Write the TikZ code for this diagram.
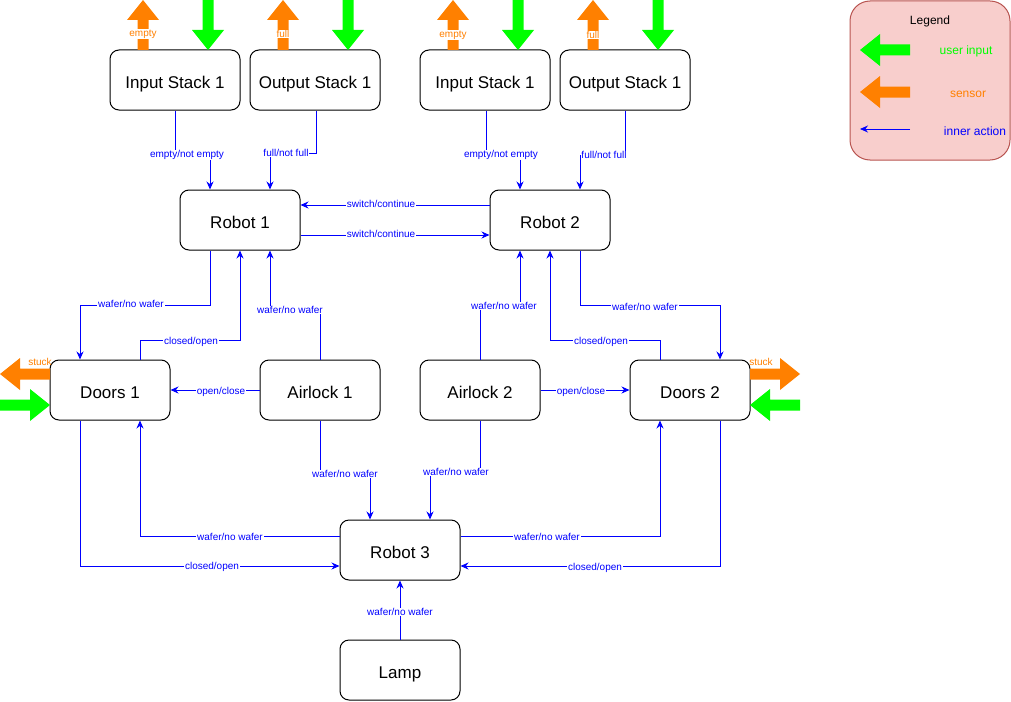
\documentclass[tikz,border=0pt]{standalone}
\usepackage{fontspec}
\setmainfont{Liberation Sans}
\usetikzlibrary{arrows.meta}
\definecolor{linkblue}{HTML}{0000FF}
\definecolor{sensororange}{HTML}{FF8000}
\definecolor{inputgreen}{HTML}{00FF00}
\definecolor{legendfill}{HTML}{F8CECC}
\definecolor{legenddraw}{HTML}{B85450}
\tikzset{
  box/.style={draw=black, line width=1pt, rounded corners=9pt, fill=white,
    minimum height=60pt, inner sep=0pt, text height=16pt, text depth=0pt,
    font=\fontsize{17}{20}\selectfont},
  stackbox/.style={box, minimum width=130pt},
  unitbox/.style={box, minimum width=120pt},
  link/.style={draw=linkblue, line width=1pt, -{Stealth[length=8pt,width=7pt]}},
  lbl/.style={fill=white, inner sep=0.8pt, text=linkblue, font=\fontsize{10}{12}\selectfont},
  senselbl/.style={inner sep=0.5pt, text=sensororange, font=\fontsize{10}{12}\selectfont},
  legendtxt/.style={font=\fontsize{12}{14}\selectfont},
  % block arrows, each drawn with its tip at the pic origin
  pics/uparrow/.style={code={\fill (0,0) -- (16,20) -- (5.5,20) -- (5.5,50) -- (-5.5,50) -- (-5.5,20) -- (-16,20) -- cycle;}},
  pics/downarrow/.style={code={\fill (0,0) -- (-16,-20) -- (-5.5,-20) -- (-5.5,-50) -- (5.5,-50) -- (5.5,-20) -- (16,-20) -- cycle;}},
  pics/leftarrow/.style={code={\fill (0,0) -- (20,-16) -- (20,-5.5) -- (50,-5.5) -- (50,5.5) -- (20,5.5) -- (20,16) -- cycle;}},
  pics/rightarrow/.style={code={\fill (0,0) -- (-20,-16) -- (-20,-5.5) -- (-50,-5.5) -- (-50,5.5) -- (-20,5.5) -- (-20,16) -- cycle;}},
}
\begin{document}
\begin{tikzpicture}[x=1pt,y=-1pt]
\useasboundingbox (0,0) rectangle (1011,701);

% stacks
\node[stackbox] (is1) at (175,80) {Input Stack 1};
\node[stackbox] (os1) at (315,80) {Output Stack 1};
\node[stackbox] (is2) at (485,80) {Input Stack 1};
\node[stackbox] (os2) at (625,80) {Output Stack 1};

% robots, doors, airlocks, lamp
\node[unitbox] (r1) at (240,220) {Robot 1};
\node[unitbox] (r2) at (550,220) {Robot 2};
\node[unitbox] (d1) at (110,390) {Doors 1};
\node[unitbox] (a1) at (320,390) {Airlock 1};
\node[unitbox] (a2) at (480,390) {Airlock 2};
\node[unitbox] (d2) at (690,390) {Doors 2};
\node[unitbox] (r3) at (400,550) {Robot 3};
\node[unitbox] (lamp) at (400,670) {Lamp};

% sensor and user input arrows on the stacks
\pic[fill=sensororange] at (143,0) {uparrow};
\pic[fill=sensororange] at (283,0) {uparrow};
\pic[fill=sensororange] at (453,0) {uparrow};
\pic[fill=sensororange] at (593,0) {uparrow};
\pic[fill=inputgreen] at (208,50) {downarrow};
\pic[fill=inputgreen] at (348,50) {downarrow};
\pic[fill=inputgreen] at (518,50) {downarrow};
\pic[fill=inputgreen] at (658,50) {downarrow};
\node[senselbl, fill=white] (s1) at (143,34) {empty};
\node[senselbl, fill=white] (s2) at (283,34) {full};
\node[senselbl, fill=white] (s3) at (453,35) {empty};
\node[senselbl, fill=white] (s4) at (593,35) {full};

% sensor and user input arrows on the doors
\pic[fill=sensororange] at (0,374) {leftarrow};
\pic[fill=inputgreen] at (50,405) {rightarrow};
\pic[fill=sensororange] at (800,374) {rightarrow};
\pic[fill=inputgreen] at (750,405) {leftarrow};
\node[senselbl] (st1) at (40,362) {stuck};
\node[senselbl] (st2) at (761,362) {stuck};

% inner actions
\draw[link] (is1.south) -- ++(0,45) -| ([xshift=-30pt]r1.north);
\draw[link] ([xshift=1pt]os1.south) -- ++(0,43) -| ([xshift=30pt]r1.north);
\draw[link] ([xshift=1pt]is2.south) -- ++(0,45) -| ([xshift=-30pt]r2.north);
\draw[link] (os2.south) -- ++(0,45) -| ([xshift=30pt]r2.north);
\draw[link] ([yshift=15pt]r2.west) -- ([yshift=15pt]r1.east);
\draw[link] ([yshift=-15pt]r1.east) -- ([yshift=-15pt]r2.west);
\draw[link] ([xshift=-30pt]r1.south) -- ++(0,55) -| ([xshift=-30pt]d1.north);
\draw[link] ([xshift=30pt]d1.north) -- ++(0,-19) -| (r1.south);
\draw[link] (a1.north) -- ++(0,-50) -| ([xshift=30pt]r1.south);
\draw[link] (a1.west) -- (d1.east);
\draw[link] ([xshift=30pt]r2.south) -- ++(0,55) -| ([xshift=30pt]d2.north);
\draw[link] ([xshift=-30pt]d2.north) -- ++(0,-19) -| (r2.south);
\draw[link] (a2.north) -- ++(0,-54) -| ([xshift=-30pt]r2.south);
\draw[link] (a2.east) -- (d2.west);
\draw[link] (a1.south) -- ++(0,54) -| ([xshift=-30pt]r3.north);
\draw[link] (a2.south) -- ++(0,52) -| ([xshift=30pt]r3.north);
\draw[link] ([yshift=14pt]r3.west) -| ([xshift=30pt]d1.south);
\draw[link] ([xshift=-30pt]d1.south) |- ([yshift=-16pt]r3.west);
\draw[link] ([yshift=14pt]r3.east) -| ([xshift=-30pt]d2.south);
\draw[link] ([xshift=30pt]d2.south) |- ([yshift=-16pt]r3.east);
\draw[link] (lamp.north) -- (r3.south);

% labels on the inner actions
\node[lbl] (l1) at (187,155) {empty/not empty};
\node[lbl] (l2) at (286,153) {full/not full};
\node[lbl] (l3) at (501,155) {empty/not empty};
\node[lbl] (l4) at (604,155) {full/not full};
\node[lbl] (l5) at (381,204) {switch/continue};
\node[lbl] (l6) at (381,234) {switch/continue};
\node[lbl] (l7) at (131,304) {wafer/no wafer};
\node[lbl] (l8) at (191,342) {closed/open};
\node[lbl] (l9) at (290,310) {wafer/no wafer};
\node[lbl] (l10) at (221,392) {open/close};
\node[lbl] (l11) at (645,307) {wafer/no wafer};
\node[lbl] (l12) at (601,342) {closed/open};
\node[lbl] (l13) at (504,306) {wafer/no wafer};
\node[lbl] (l14) at (581,392) {open/close};
\node[lbl] (l15) at (345,474) {wafer/no wafer};
\node[lbl] (l16) at (456,472) {wafer/no wafer};
\node[lbl] (l17) at (230,537) {wafer/no wafer};
\node[lbl] (l18) at (212,567) {closed/open};
\node[lbl] (l19) at (547,537) {wafer/no wafer};
\node[lbl] (l20) at (595,568) {closed/open};
\node[lbl] (l21) at (400,612) {wafer/no wafer};

% legend
\draw[fill=legendfill, draw=legenddraw, line width=1pt, rounded corners=20pt]
  (850,1) rectangle (1010,160);
\node[legendtxt] (lgtitle) at (930,21) {Legend};
\pic[fill=inputgreen] at (860,50) {leftarrow};
\node[legendtxt, text=inputgreen] (lguser) at (966,51) {user input};
\pic[fill=sensororange] at (860,92) {leftarrow};
\node[legendtxt, text=sensororange] (lgsensor) at (968,94) {sensor};
\coordinate (lgfrom) at (910,129);
\coordinate (lgto) at (860,129);
\draw[link] (lgfrom) -- (lgto);
\node[legendtxt, text=linkblue] (lginner) at (975,131) {inner action};
\end{tikzpicture}
\end{document}
